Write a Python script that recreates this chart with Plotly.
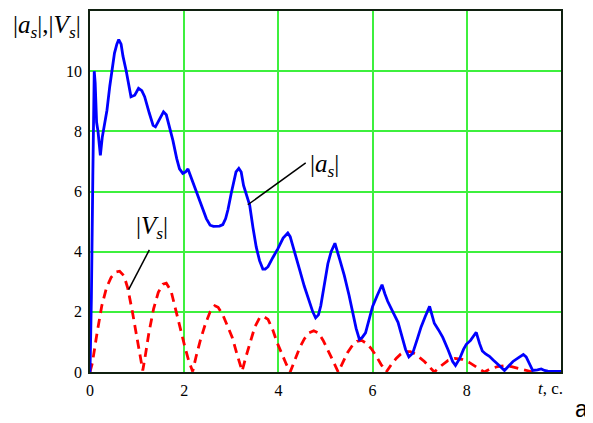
import plotly.graph_objects as go

# |a_s| (blue solid)
t_a = [0.0, 0.03, 0.06, 0.09, 0.11, 0.14, 0.17, 0.20, 0.22, 0.26, 0.30, 0.36, 0.42, 0.47, 0.52, 0.57,
       0.61, 0.66, 0.70, 0.77, 0.82, 0.87, 0.95, 1.03, 1.10, 1.16, 1.26, 1.34, 1.39, 1.48, 1.56, 1.62,
       1.70, 1.76, 1.84, 1.90, 1.97, 2.03, 2.08, 2.14, 2.22, 2.33, 2.40, 2.47, 2.55, 2.62, 2.75, 2.82,
       2.88, 2.93, 3.00, 3.05, 3.10, 3.16, 3.21, 3.26, 3.32, 3.39, 3.46, 3.53, 3.60, 3.67, 3.72, 3.78,
       3.88, 3.99, 4.10, 4.20, 4.25, 4.31, 4.38, 4.45, 4.55, 4.66, 4.73, 4.79, 4.85, 4.90, 4.97, 5.05,
       5.12, 5.20, 5.30, 5.40, 5.50, 5.58, 5.65, 5.72, 5.78, 5.85, 5.93, 6.00, 6.10, 6.20, 6.26, 6.32,
       6.43, 6.54, 6.62, 6.70, 6.77, 6.85, 6.95, 7.03, 7.12, 7.21, 7.26, 7.31, 7.40, 7.49, 7.60, 7.70,
       7.76, 7.85, 7.93, 7.99, 8.08, 8.13, 8.20, 8.27, 8.33, 8.40, 8.48, 8.56, 8.62, 8.70, 8.80, 8.90,
       8.98, 9.10, 9.20, 9.26, 9.33, 9.40, 9.50, 9.58, 9.65, 9.72, 9.85, 10.0]
a_s = [0.0, 2.5, 6.5, 10.0, 9.6, 8.3, 8.0, 7.4, 7.2, 7.8, 8.2, 8.7, 9.5, 10.0, 10.6, 10.9,
       11.05, 10.9, 10.5, 10.0, 9.5, 9.15, 9.2, 9.43, 9.35, 9.15, 8.6, 8.2, 8.15, 8.4, 8.65, 8.55,
       8.1, 7.7, 7.1, 6.75, 6.6, 6.65, 6.75, 6.5, 6.15, 5.7, 5.35, 5.1, 4.88, 4.84, 4.85, 4.9,
       5.1, 5.4, 5.95, 6.3, 6.65, 6.77, 6.65, 6.2, 5.9, 5.55, 4.8, 4.15, 3.7, 3.42, 3.42, 3.5,
       3.8, 4.1, 4.45, 4.62, 4.5, 4.15, 3.75, 3.4, 2.85, 2.3, 2.0, 1.8, 1.9, 2.2, 2.9, 3.6,
       4.0, 4.28, 3.75, 3.2, 2.55, 1.95, 1.45, 1.08, 1.15, 1.3, 1.8, 2.18, 2.55, 2.9, 2.6, 2.35,
       2.0, 1.65, 1.2, 0.75, 0.5, 0.62, 1.1, 1.5, 1.85, 2.18, 1.9, 1.62, 1.4, 1.15, 0.75, 0.35,
       0.22, 0.45, 0.75, 0.92, 1.05, 1.15, 1.32, 0.95, 0.7, 0.6, 0.52, 0.4, 0.3, 0.2, 0.05, 0.2,
       0.35, 0.48, 0.58, 0.5, 0.3, 0.05, 0.07, 0.1, 0.05, 0.03, 0.02, 0.02]

# |V_s| (red dashed)
t_v = [0.0, 0.05, 0.15, 0.25, 0.35, 0.45, 0.55, 0.63, 0.72, 0.80, 0.90, 1.00, 1.07, 1.12,
       1.17, 1.25, 1.35, 1.45, 1.55, 1.62, 1.72, 1.82, 1.92, 2.02, 2.10, 2.18,
       2.25, 2.35, 2.45, 2.55, 2.65, 2.72, 2.82, 2.92, 3.02, 3.12, 3.23,
       3.30, 3.40, 3.50, 3.60, 3.68, 3.78, 3.88, 3.98, 4.08, 4.17, 4.25,
       4.35, 4.45, 4.55, 4.65, 4.75, 4.85, 4.95, 5.05, 5.15, 5.27,
       5.37, 5.47, 5.57, 5.67, 5.77, 5.87, 5.97, 6.07, 6.18, 6.29,
       6.40, 6.50, 6.60, 6.70, 6.80, 6.90, 7.00, 7.10, 7.20, 7.31,
       7.45, 7.60, 7.75, 7.90, 8.05, 8.20, 8.37,
       8.50, 8.65, 8.80, 8.95, 9.10, 9.25, 9.40, 9.50]
v_s = [0.0, 0.3, 1.3, 2.2, 2.8, 3.15, 3.32, 3.35, 3.2, 2.8, 2.0, 1.1, 0.45, 0.05,
       0.5, 1.3, 2.1, 2.65, 2.92, 2.95, 2.7, 2.05, 1.4, 0.8, 0.35, 0.02,
       0.5, 1.1, 1.6, 2.0, 2.2, 2.15, 1.9, 1.55, 1.15, 0.6, 0.03,
       0.45, 1.0, 1.5, 1.8, 1.85, 1.75, 1.4, 0.95, 0.55, 0.25, 0.0,
       0.4, 0.8, 1.1, 1.3, 1.37, 1.3, 1.05, 0.75, 0.4, 0.0,
       0.35, 0.65, 0.88, 1.02, 1.05, 0.95, 0.78, 0.55, 0.25, 0.0,
       0.25, 0.45, 0.6, 0.68, 0.68, 0.6, 0.48, 0.35, 0.18, 0.0,
       0.2, 0.38, 0.45, 0.42, 0.32, 0.18, 0.0,
       0.1, 0.18, 0.21, 0.18, 0.12, 0.06, 0.0, 0.02]

x_ticks = [0, 2, 4, 6, 8]
y_ticks = [0, 2, 4, 6, 8, 10]

serif = "Liberation Serif, Times New Roman, serif"

# page has an 8px body margin: figure occupies page pixels 8..593 x 8..423
OFF = 8
W, H = 593 - OFF, 423 - OFF
L, R, T, B = 90 - OFF, 32, 11 - OFF, 51

fig = go.Figure()
fig.add_trace(go.Scatter(x=t_v, y=v_s, mode="lines",
                         line=dict(color="#ff0000", width=2.8, dash="9px,6px")))
fig.add_trace(go.Scatter(x=t_a, y=a_s, mode="lines",
                         line=dict(color="#0000ff", width=2.8)))

axis_common = dict(showgrid=True, gridcolor="#3ef03e", gridwidth=1.5, automargin=False,
                   zeroline=False, showline=True, linecolor="#102010", linewidth=1.5,
                   mirror=True, ticks="", ticklabelstandoff=3,
                   tickfont=dict(family=serif, size=16, color="#000"))

fig.update_layout(
    width=W, height=H,
    margin=dict(l=L, r=R, t=T, b=B, autoexpand=False),
    paper_bgcolor="white", plot_bgcolor="white",
    showlegend=False,
    font=dict(family=serif),
    xaxis=dict(range=[0, 10], tickvals=x_ticks, ticktext=[str(v) for v in x_ticks], **axis_common),
    yaxis=dict(range=[0, 12], tickvals=y_ticks, ticktext=[str(v) for v in y_ticks], **axis_common),
)


def px2paper(px, py):
    fx, fy = px - OFF, py - OFF
    return (fx - L) / (W - L - R), 1 - (fy - T) / (H - T - B)


annots = [
    (47, 26, "|<i>a<sub>s</sub></i>|,|<i>V<sub>s</sub></i>|", serif, 25),
    (550, 388, "<i>t</i>, c.", serif, 17),
    (581, 409, "a", "Liberation Sans, Arial, sans-serif", 23),
]
for px, py, txt, fam, sz in annots:
    xp, yp = px2paper(px, py)
    fig.add_annotation(x=xp, y=yp, xref="paper", yref="paper",
                       text=txt, showarrow=False, font=dict(family=fam, size=sz, color="#000"),
                       xanchor="center", yanchor="middle")

# leader lines (data coords)
fig.add_shape(type="line", x0=3.35, y0=5.56, x1=4.58, y1=6.95, line=dict(color="#000", width=1.5))
fig.add_shape(type="line", x0=0.82, y0=2.74, x1=1.26, y1=4.06, line=dict(color="#000", width=1.5))

fig.add_annotation(x=4.98, y=6.85, text="|<i>a<sub>s</sub></i>|", showarrow=False,
                   font=dict(family=serif, size=25, color="#000"), xanchor="center", yanchor="middle")
fig.add_annotation(x=1.31, y=4.8, text="|<i>V<sub>s</sub></i>|", showarrow=False,
                   font=dict(family=serif, size=25, color="#000"), xanchor="center", yanchor="middle")

fig.write_html("out.html")
